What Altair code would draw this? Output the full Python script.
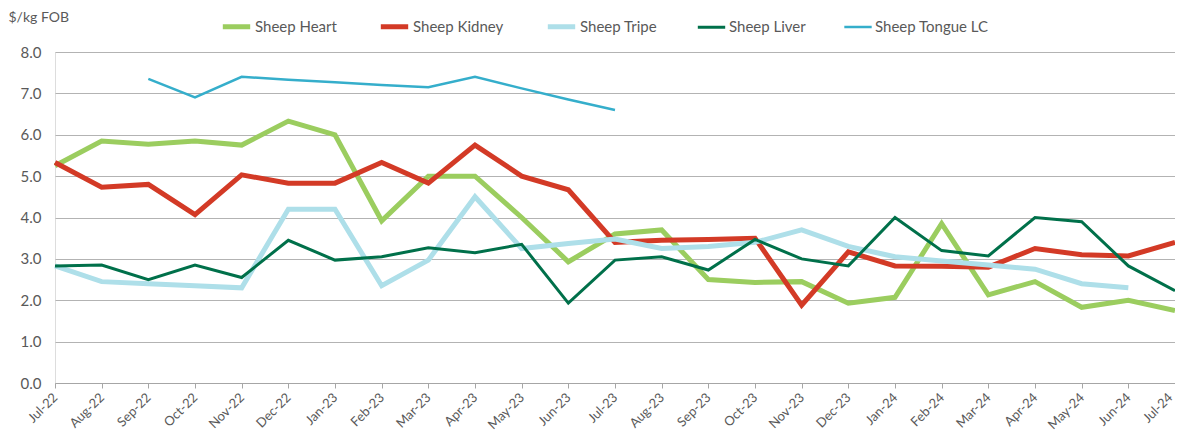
import altair as alt
import pandas as pd

months = ["Jul-22", "Aug-22", "Sep-22", "Oct-22", "Nov-22", "Dec-22", "Jan-23", "Feb-23",
          "Mar-23", "Apr-23", "May-23", "Jun-23", "Jul-23", "Aug-23", "Sep-23", "Oct-23",
          "Nov-23", "Dec-23", "Jan-24", "Feb-24", "Mar-24", "Apr-24", "May-24", "Jun-24", "Jul-24"]

heart = [5.25, 5.85, 5.77, 5.85, 5.75, 6.33, 6.0, 3.92, 5.0, 5.0, 4.0, 2.93, 3.6, 3.7,
         2.5, 2.43, 2.45, 1.93, 2.07, 3.85, 2.13, 2.45, 1.83, 2.0, 1.75]
kidney = [5.33, 4.73, 4.8, 4.07, 5.03, 4.83, 4.83, 5.33, 4.83, 5.75, 5.0, 4.67, 3.4, 3.45,
          3.47, 3.5, 1.88, 3.17, 2.83, 2.82, 2.8, 3.25, 3.1, 3.07, 3.4]
tripe = [2.83, 2.45, 2.4, 2.35, 2.3, 4.2, 4.2, 2.35, 2.97, 4.5, 3.25, 3.37, 3.48, 3.25,
         3.3, 3.4, 3.7, 3.3, 3.05, 2.95, 2.85, 2.75, 2.4, 2.3, None]
liver = [2.83, 2.85, 2.5, 2.85, 2.55, 3.45, 2.97, 3.05, 3.27, 3.15, 3.35, 1.93, 2.97, 3.05,
         2.73, 3.47, 3.0, 2.83, 4.0, 3.2, 3.07, 4.0, 3.9, 2.83, 2.23]
tongue = [None, None, 7.35, 6.9, 7.4, 7.33, 7.27, 7.2, 7.15, 7.4, 7.12, 6.85, 6.6,
          None, None, None, None, None, None, None, None, None, None, None, None]

series_names = ["Sheep Heart", "Sheep Kidney", "Sheep Tripe", "Sheep Liver", "Sheep Tongue LC"]
series_vals = [heart, kidney, tripe, liver, tongue]
colors = ["#9BCD5F", "#D33A26", "#AEDFE9", "#00704A", "#35AECB"]
widths = [5, 5, 5, 3, 2.5]

rows = []
for si, (name, vals) in enumerate(zip(series_names, series_vals)):
    for mi, (m, v) in enumerate(zip(months, vals)):
        if v is not None:
            rows.append({"month": m, "value": v, "series": name, "order": si})
df = pd.DataFrame(rows)

font = "Lato"
gray = "#595959"

last_month = months[-1]

chart = alt.Chart(df).mark_line(strokeJoin="miter", strokeCap="butt").encode(
    x=alt.X("month:O", sort=months, scale=alt.Scale(type="point", padding=0),
            axis=alt.Axis(title=None, labelAngle=-45, labelAlign="right", labelBaseline="middle",
                          labelFontSize=13, labelColor=gray, labelFont=font,
                          domainColor="#A6A6A6", tickColor="#A6A6A6", tickSize=5,
                          labelPadding=7, grid=False,
                          labelOffset={"condition": {"test": f"datum.value == '{last_month}'",
                                                     "value": -5}, "value": 0})),
    y=alt.Y("value:Q", scale=alt.Scale(domain=[0, 8], nice=False),
            axis=alt.Axis(title="$/kg FOB", titleAngle=0, titleAlign="left", titleBaseline="middle",
                          titleX=-47, titleY=-35, titleFontSize=14, titleFontWeight="normal",
                          titleColor=gray, titleFont=font,
                          values=[0, 1, 2, 3, 4, 5, 6, 7, 8], format=".1f",
                          labelFontSize=15, labelColor=gray, labelFont=font, labelPadding=14,
                          domain=False, ticks=False, gridColor="#B3B3B3", gridWidth=1)),
    color=alt.Color("series:N", sort=series_names,
                    scale=alt.Scale(domain=series_names, range=colors),
                    legend=alt.Legend(title=None, orient="none", direction="horizontal",
                                      legendX=165, legendY=-42, symbolType="stroke",
                                      symbolSize=750, symbolStrokeWidth=4,
                                      labelFontSize=15, labelColor=gray,
                                      labelFont=font, columnPadding=33, labelOffset=2)),
    strokeWidth=alt.StrokeWidth("series:N", sort=series_names,
                                scale=alt.Scale(type="ordinal", domain=series_names, range=widths),
                                legend=None),
    order=alt.Order("order:Q"),
    detail="series:N",
).properties(
    width=1120, height=331,
    autosize=alt.AutoSizeParams(type="none"),
    padding={"left": 47, "top": 44, "right": 0, "bottom": 48},
).configure_view(stroke=None).configure(background="white")

chart.save("out.html", embed_options={"renderer": "svg", "actions": False})
